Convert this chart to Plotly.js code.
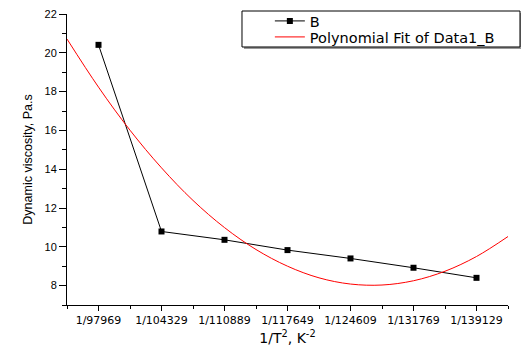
<!DOCTYPE html>
<html><head><meta charset="utf-8">
<script src="https://cdn.plot.ly/plotly-3.0.1.min.js"></script>
<style>html,body{margin:0;padding:0;background:#fff}#chart{width:521px;height:352px}</style>
</head><body><div id="chart"></div>
<script>
const categories = ["1/97969","1/104329","1/110889","1/117649","1/124609","1/131769","1/139129"];
const categoryPos = [0,1,2,3,4,5,6];
const bValues = [20.41,10.79,10.36,9.83,9.40,8.92,8.40];
const fitX = [-0.5,0,0.5,1,1.5,2,2.5,3,3.5,4,4.5,5,5.5,6,6.5];
const fitY = [20.71,18.23,16.01,14.07,12.39,10.99,9.86,9.00,8.40,8.08,8.03,8.25,8.74,9.50,10.53];

const traces = [
  {x: categoryPos, y: bValues, name: "B", mode: "lines+markers", type: "scatter", legend: "legend",
   line: {color: "#000", width: 1}, marker: {symbol: "square", size: 6, color: "#000"}},
  {x: fitX, y: fitY, name: "Polynomial Fit of Data1_B", mode: "lines", type: "scatter", legend: "legend2",
   line: {color: "#ff0000", width: 1, shape: "spline"}}
];
const arial = {family: "Liberation Sans, Arial, sans-serif", color: "#000"};
const wide = {family: "DejaVu Sans, sans-serif", color: "#000"};
const legendBase = {x: 0.46, xanchor: "left", yanchor: "middle", bgcolor: "rgba(0,0,0,0)",
  borderwidth: 0, font: Object.assign({size: 14.5}, wide), itemwidth: 30};
const layout = {
  width: 521, height: 352,
  margin: {l: 67, r: 13, t: 14, b: 47, autoexpand: false},
  paper_bgcolor: "#fff", plot_bgcolor: "#fff",
  font: Object.assign({size: 11}, arial),
  showlegend: true,
  legend: Object.assign({y: 0.976}, legendBase),
  legend2: Object.assign({y: 0.921}, legendBase),
  xaxis: {range: [-0.5, 6.5], tickvals: categoryPos, ticktext: categories, automargin: false,
    showgrid: false, zeroline: false, showline: true, linecolor: "#000", linewidth: 1,
    ticks: "outside", ticklen: 5, tickcolor: "#000",
    minor: {dtick: 0.5, tick0: 0.5, ticks: "outside", ticklen: 3, tickcolor: "#000", showgrid: false},
    tickfont: Object.assign({size: 11}, wide),
    title: {text: "1/T<sup>2</sup>, K<sup>-2</sup>", font: Object.assign({size: 14}, wide), standoff: 6}},
  yaxis: {range: [7, 22], tick0: 8, dtick: 2, tickmode: "linear", automargin: false,
    showgrid: false, zeroline: false, showline: true, linecolor: "#000", linewidth: 1,
    ticks: "outside", ticklen: 7, tickcolor: "#000",
    minor: {dtick: 1, tick0: 7, ticks: "outside", ticklen: 4, tickcolor: "#000", showgrid: false},
    tickfont: Object.assign({size: 11}, arial),
    title: {text: "Dynamic viscosity, Pa.s", font: Object.assign({size: 12.5}, arial), standoff: 9}},
  shapes: [
    {type: "rect", xref: "paper", yref: "paper", x0: 0.4014, x1: 1.0317, y0: 0.8797, y1: 1.0034,
     fillcolor: "#999", line: {width: 0}, layer: "above"},
    {type: "rect", xref: "paper", yref: "paper", x0: 0.3968, x1: 1.0272, y0: 0.8866, y1: 1.0103,
     fillcolor: "#fff", line: {color: "#000", width: 1}, layer: "above"}
  ]
};
Plotly.newPlot("chart", traces, layout, {displayModeBar: false, staticPlot: true});
</script></body></html>
